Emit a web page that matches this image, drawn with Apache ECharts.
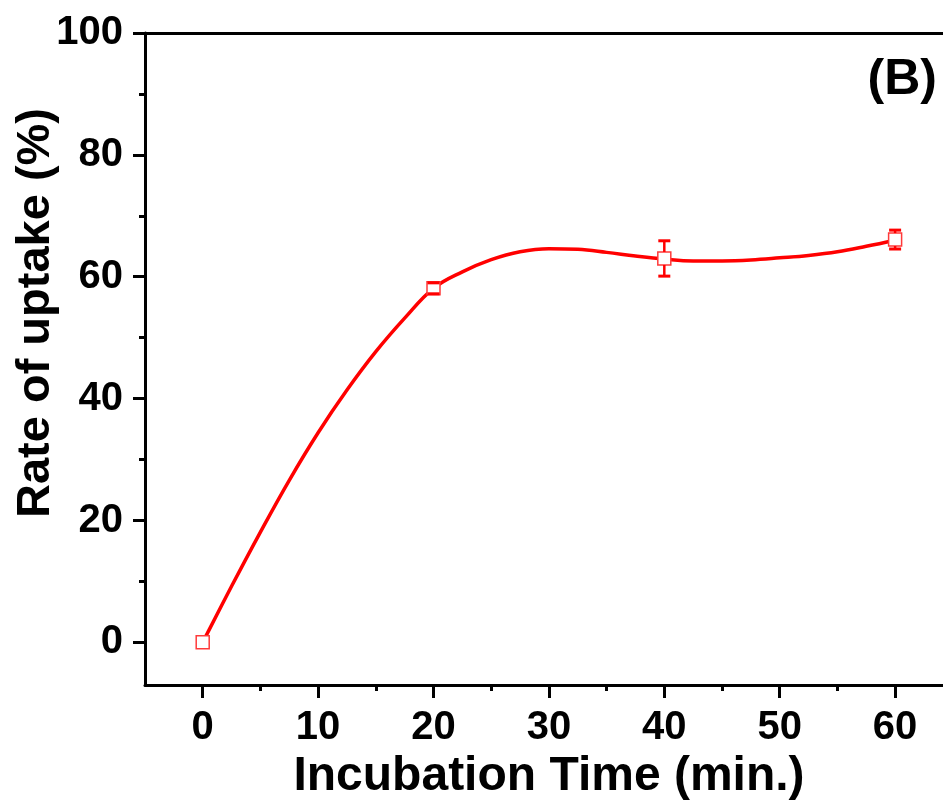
<!DOCTYPE html>
<html>
<head>
<meta charset="utf-8">
<script src="https://cdn.jsdelivr.net/npm/echarts@6/dist/echarts.min.js"></script>
<style>html,body{margin:0;padding:0;background:#fff}#c{width:943px;height:806px}</style>
</head>
<body>
<div id="c"></div>
<script>
// Measured points (incubation time in min, uptake in %) with error (±)
const times = [0, 20, 40, 60];
const uptake = [0, 58.1, 63.0, 66.1];
const uptakeErr = [0, 0.9, 2.9, 1.55];
// Fitted curve
const curveX = [0, 2.5, 5, 7.5, 10, 12.5, 15, 17.5, 20, 22.5, 25, 27.5, 30, 32.5, 35, 37.5, 40, 42.5, 45, 47.5, 50, 52.5, 55, 57.5, 60];
const curveY = [0, 9.2, 18.1, 26.6, 34.4, 41.4, 47.7, 53.2, 58.1, 60.8, 62.8, 64.1, 64.6, 64.5, 64.0, 63.4, 62.9, 62.6, 62.6, 62.75, 63.1, 63.5, 64.1, 65.0, 66.0];
const xMajorTicks = [0, 10, 20, 30, 40, 50, 60];
const xMinorTicks = [5, 15, 25, 35, 45, 55];
const yMajorTicks = [0, 20, 40, 60, 80, 100];
const yMinorTicks = [10, 30, 50, 70, 90];
const xTitle = 'Incubation Time (min.)';
const yTitle = 'Rate of uptake (%)';
const panelLabel = '(B)';

const FONT = '"Liberation Sans", Arial, Helvetica, sans-serif';
const chart = echarts.init(document.getElementById('c'), null, {renderer: 'canvas'});
const black = '#000';
const red = '#ff0000';
const X_MIN = -5, X_MAX = 64.15, Y_MIN = -7, Y_MAX = 100;

const option = {
  animation: false,
  backgroundColor: '#fff',
  grid: {left: 145, top: 33, right: 0, height: 652, containLabel: false},
  xAxis: [
    {
      type: 'value', min: X_MIN, max: X_MAX, position: 'bottom',
      axisLine: {show: true, onZero: false, lineStyle: {color: black, width: 3}},
      axisTick: {show: true, inside: false, length: 13, lineStyle: {color: black, width: 3}, customValues: xMajorTicks},
      axisLabel: {show: true, margin: 23, color: black, fontFamily: FONT, fontWeight: 'bold', fontSize: 40, customValues: xMajorTicks},
      splitLine: {show: false}
    },
    {
      type: 'value', min: X_MIN, max: X_MAX, position: 'bottom',
      axisLine: {show: false, onZero: false},
      axisTick: {show: true, inside: false, length: 6, lineStyle: {color: black, width: 3}, customValues: xMinorTicks},
      axisLabel: {show: false},
      splitLine: {show: false}
    },
    {
      type: 'value', min: X_MIN, max: X_MAX, position: 'top',
      axisLine: {show: true, onZero: false, lineStyle: {color: black, width: 3}},
      axisTick: {show: false}, axisLabel: {show: false}, splitLine: {show: false}
    }
  ],
  yAxis: [
    {
      type: 'value', min: Y_MIN, max: Y_MAX, position: 'left',
      axisLine: {show: true, onZero: false, lineStyle: {color: black, width: 3}},
      axisTick: {show: true, inside: false, length: 12, lineStyle: {color: black, width: 3}, customValues: yMajorTicks},
      axisLabel: {show: true, margin: 22, color: black, fontFamily: FONT, fontWeight: 'bold', fontSize: 40, customValues: yMajorTicks},
      splitLine: {show: false}
    },
    {
      type: 'value', min: Y_MIN, max: Y_MAX, position: 'left', offset: 0,
      axisLine: {show: false, onZero: false},
      axisTick: {show: true, inside: false, length: 6, lineStyle: {color: black, width: 3}, customValues: yMinorTicks},
      axisLabel: {show: false},
      splitLine: {show: false}
    }
  ],
  series: [
    {
      type: 'line', name: 'fit', xAxisIndex: 0, yAxisIndex: 0,
      data: curveX.map((x, i) => [x, curveY[i]]),
      smooth: 0.4, showSymbol: false, symbol: 'none',
      lineStyle: {color: red, width: 3.5}, z: 2, clip: false
    },
    {
      type: 'scatter', name: 'uptake', xAxisIndex: 0, yAxisIndex: 0,
      data: times.map((t, i) => [t, uptake[i]]),
      symbol: 'rect', symbolSize: 13,
      itemStyle: {color: '#fff', borderColor: '#ff3a3a', borderWidth: 1.5, opacity: 1},
      z: 3
    },
    {
      type: 'custom', name: 'error', xAxisIndex: 0, yAxisIndex: 0,
      data: times.map((t, i) => [t, uptake[i], uptakeErr[i]]),
      z: 4,
      renderItem: function (params, api) {
        const x = api.value(0), y = api.value(1), e = api.value(2);
        if (!e) return null;
        const pc = api.coord([x, y]);
        const pt = api.coord([x, y + e]);
        const pb = api.coord([x, y - e]);
        const half = 6.5, cap = 6;
        const st = {stroke: red, lineWidth: 2.5};
        const ch = [];
        if (pt[1] < pc[1] - half) ch.push({type: 'line', shape: {x1: pc[0], y1: pt[1], x2: pc[0], y2: pc[1] - half}, style: st});
        if (pb[1] > pc[1] + half) ch.push({type: 'line', shape: {x1: pc[0], y1: pc[1] + half, x2: pc[0], y2: pb[1]}, style: st});
        ch.push({type: 'line', shape: {x1: pc[0] - cap, y1: pt[1], x2: pc[0] + cap, y2: pt[1]}, style: {stroke: red, lineWidth: 3}});
        ch.push({type: 'line', shape: {x1: pc[0] - cap, y1: pb[1], x2: pc[0] + cap, y2: pb[1]}, style: {stroke: red, lineWidth: 3}});
        return {type: 'group', children: ch};
      }
    }
  ],
  graphic: [
    {
      type: 'text', x: 36, y: 313, rotation: Math.PI / 2,
      style: {text: yTitle, fill: black, font: 'bold 47px ' + FONT, align: 'center', verticalAlign: 'middle'}
    },
    {
      type: 'text', x: 549, y: 777,
      style: {text: xTitle, fill: black, font: 'bold 48px ' + FONT, align: 'center', verticalAlign: 'middle'}
    },
    {
      type: 'text', x: 937, y: 80,
      style: {text: panelLabel, fill: black, font: 'bold 50px ' + FONT, align: 'right', verticalAlign: 'middle'}
    }
  ]
};
chart.setOption(option);
</script>
</body>
</html>
